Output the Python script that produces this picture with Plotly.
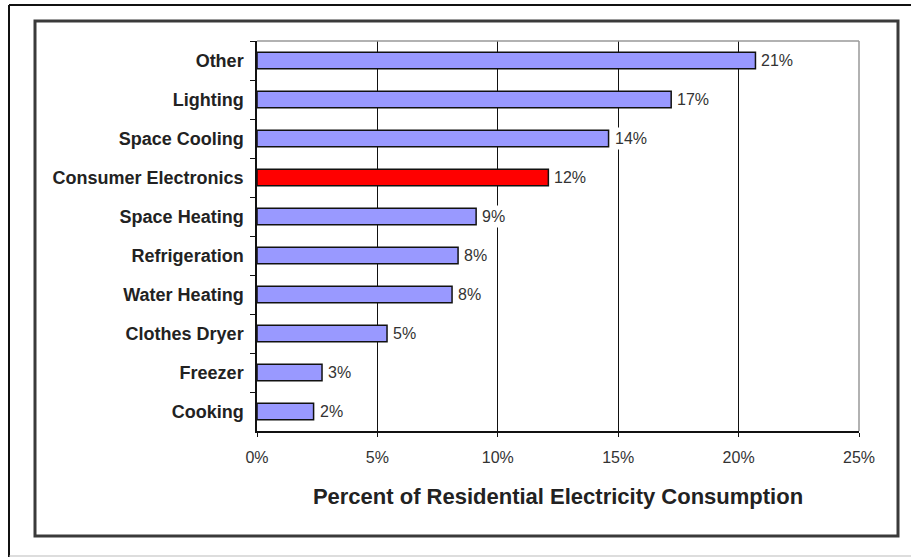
import plotly.graph_objects as go

categories = ["Other", "Lighting", "Space Cooling", "Consumer Electronics", "Space Heating",
              "Refrigeration", "Water Heating", "Clothes Dryer", "Freezer", "Cooking"]
values = [20.7, 17.2, 14.6, 12.1, 9.1, 8.35, 8.1, 5.4, 2.7, 2.35]
labels = ["21%", "17%", "14%", "12%", "9%", "8%", "8%", "5%", "3%", "2%"]
highlight = "Consumer Electronics"
x_ticks = [0, 5, 10, 15, 20, 25]
x_ticktext = ["0%", "5%", "10%", "15%", "20%", "25%"]

W, H = 911, 557
L, R, T, B = 257, 52, 41, 126
PW, PH = W - L - R, H - T - B


def px(x):
    return (x - L) / PW


def py(y):
    return 1 - (y - T) / PH


colors = ["#FF0000" if c == highlight else "#9999FF" for c in categories]

fig = go.Figure()
fig.add_trace(go.Bar(
    y=categories, x=values, orientation="h",
    marker=dict(color=colors, line=dict(color="#111111", width=1.5)),
    hoverinfo="skip",
))

for c, v, t in zip(categories, values, labels):
    fig.add_annotation(x=v, y=c, xref="x", yref="y", text=t, showarrow=False,
                       xanchor="left", xshift=3, bgcolor="white", borderpad=2,
                       font=dict(family="Liberation Sans, Arial", size=16, color="#333333"))

shapes = [
    # outer frame
    dict(type="line", xref="paper", yref="paper", x0=px(9), x1=px(911), y0=py(5), y1=py(5),
         line=dict(color="#111111", width=2)),
    dict(type="line", xref="paper", yref="paper", x0=px(9), x1=px(9), y0=py(5), y1=py(557),
         line=dict(color="#111111", width=2)),
    dict(type="line", xref="paper", yref="paper", x0=px(9), x1=px(911), y0=py(556), y1=py(556),
         line=dict(color="#bbbbbb", width=1)),
    # inner frame
    dict(type="rect", xref="paper", yref="paper", x0=px(35), x1=px(898), y0=py(536), y1=py(21),
         line=dict(color="#3a3a3a", width=3), layer="below"),
    # plot area top/right border
    dict(type="line", xref="paper", yref="paper", x0=0, x1=1, y0=1, y1=1,
         line=dict(color="#999999", width=1.5)),
    dict(type="line", xref="paper", yref="paper", x0=1, x1=1, y0=0, y1=1,
         line=dict(color="#999999", width=1.5)),
]

fig.update_layout(
    width=W, height=H,
    margin=dict(l=L, r=R, t=T, b=B),
    paper_bgcolor="white", plot_bgcolor="white",
    showlegend=False,
    bargap=0.58,
    shapes=shapes,
    font=dict(family="Liberation Sans, Arial", color="#222222"),
    xaxis=dict(
        range=[0, 25], tickvals=x_ticks, ticktext=x_ticktext,
        showgrid=True, gridcolor="#111111", gridwidth=1,
        showline=True, linecolor="#111111", linewidth=1.5,
        ticks="outside", ticklen=4, tickcolor="#111111",
        tickfont=dict(size=16, color="#333333"),
        ticklabelstandoff=7,
        zeroline=False, fixedrange=True,
        title=dict(text="<b>Percent of Residential Electricity Consumption</b>",
                   font=dict(size=22, color="#222222"), standoff=24),
    ),
    yaxis=dict(
        categoryorder="array", categoryarray=categories, autorange="reversed",
        showline=True, linecolor="#111111", linewidth=1.5,
        ticks="outside", ticklen=5, tickcolor="#111111", tickson="boundaries",
        tickfont=dict(size=18, color="#222222"),
        ticklabelstandoff=8,
        showgrid=False, fixedrange=True,
    ),
)
fig.update_yaxes(tickprefix="<b>", ticksuffix="</b>")

fig.write_html("out.html")
